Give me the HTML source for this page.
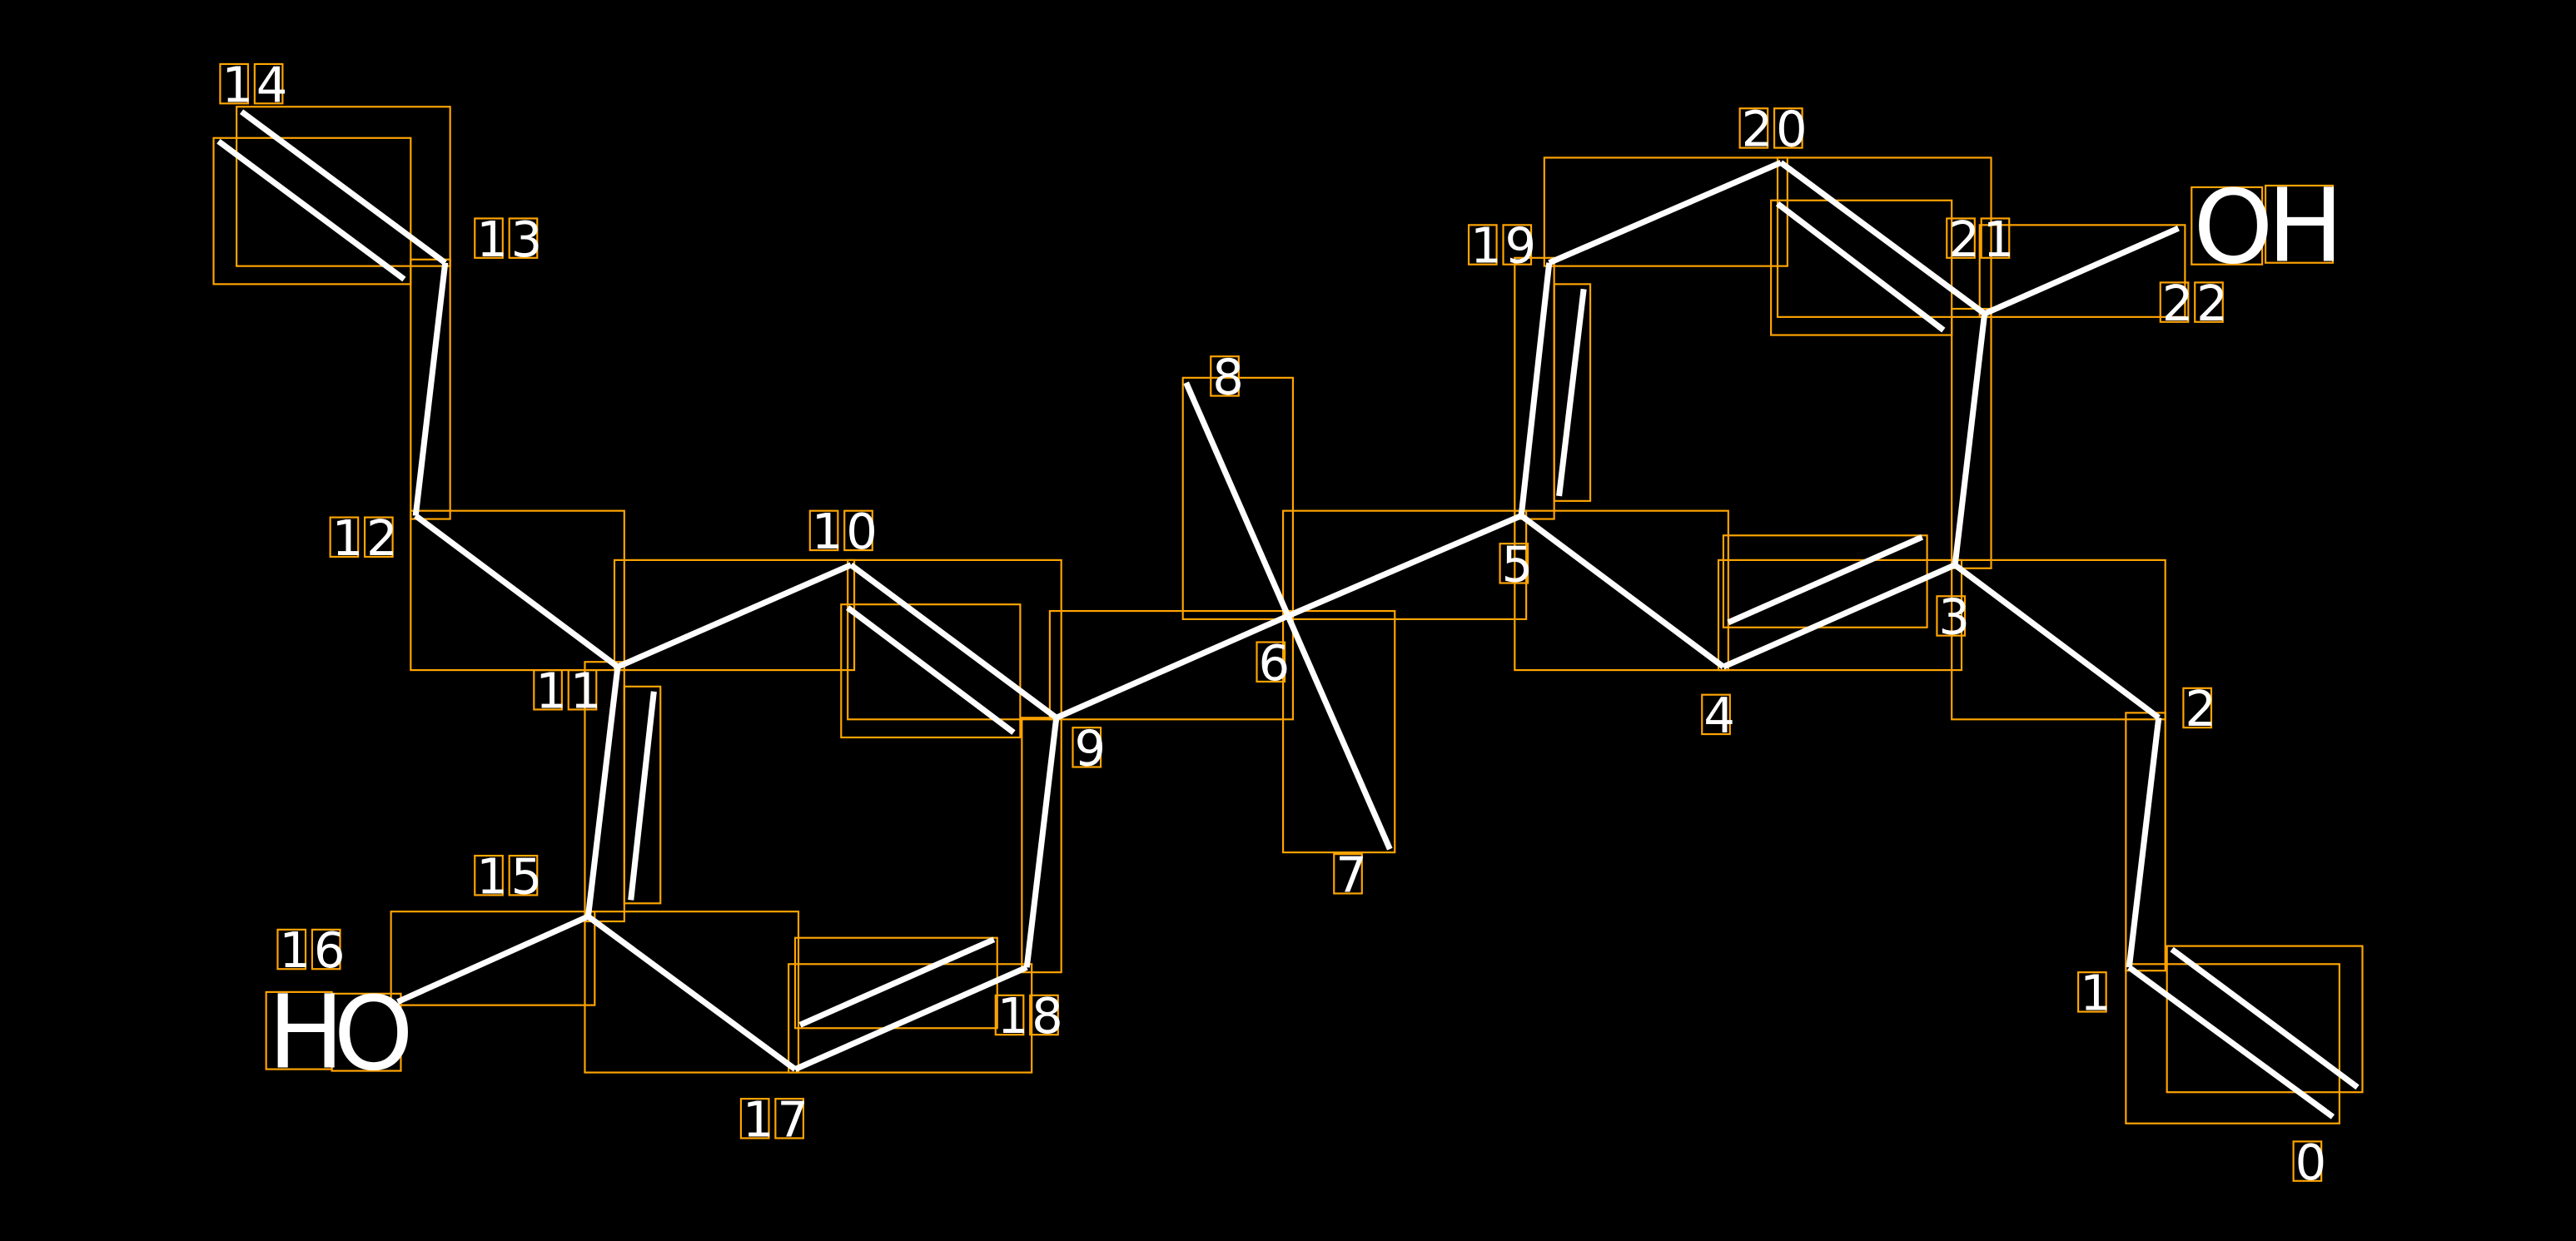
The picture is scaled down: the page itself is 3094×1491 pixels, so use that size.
<!DOCTYPE html>
<html><head><meta charset="utf-8">
<style>html,body{margin:0;padding:0;background:#000;}svg{display:block;}</style>
</head><body>
<svg id="s" xmlns="http://www.w3.org/2000/svg" width="3094" height="1491" viewBox="0 0 1568 755.6" preserveAspectRatio="none">
<rect x="0" y="0" width="1568" height="756" fill="#000"/>
<g id="boxes" fill="none" stroke="#FFA500" stroke-width="1.1"></g>
<g id="bonds" stroke="#fff" stroke-width="3.6" stroke-linecap="butt"></g>
<g id="labels" font-family="DejaVu Sans, Liberation Sans, sans-serif" fill="#fff"></g>
</svg>
<script>
var NS="http://www.w3.org/2000/svg";
function el(p,t,a,txt){var e=document.createElementNS(NS,t);for(var k in a)e.setAttribute(k,a[k]);if(txt!=null)e.textContent=txt;document.getElementById(p).appendChild(e);return e;}
var L=[[147,68,271,160],[133,86,246,170],[271,160,253,314],[253,314,376,406],[376,406,518,344],[518,344,643,437],[516,370,617,446],
[643,437,784,375],[784,375,722,233],[784,375,846,517],[784,375,926,314],[926,314,1049,406],[1049,406,1190,344],[1052,379,1170,327],
[1190,344,1314,437],[1314,437,1296,589],[1296,589,1420,680],[1322,578,1435,662],[1190,344,1208,191],[1208,191,1084,99],[1082,124,1183,201],
[1084,99,943,160],[943,160,926,314],[964,176,949,302],[1208,191,1326,139],[376,406,358,558],[398,421,384,548],[358,558,242,610],
[358,558,484,651],[484,651,625,589],[487,624,605,572],[625,589,643,437]];
L.forEach(function(l){el("bonds","line",{x1:l[0],y1:l[1],x2:l[2],y2:l[3]});});
var B=[[144,65,274,162],[130,84,250,173],[250,158,274,316],[250,311,380,408],[374,341,520,408],[516,341,646,438],[512,368,621,449],
[622,437,646,592],[639,372,787,438],[720,230,787,377],[781,372,849,519],[781,311,929,377],[922,311,1052,408],[1046,341,1194,408],
[1049,326,1173,382],[1188,341,1318,438],[1294,434,1318,591],[1294,587,1424,684],[1319,576,1438,665],[1188,188,1212,346],[922,157,946,316],
[946,173,968,305],[940,96,1088,162],[1082,96,1212,193],[1078,122,1188,204],[1205,137,1330,193],[356,403,380,561],[380,418,402,550],
[238,555,362,612],[356,555,486,653],[480,587,628,653],[484,571,607,626]];
B.forEach(function(b){el("boxes","rect",{x:b[0],y:b[1],width:b[2]-b[0],height:b[3]-b[1]});});
var T=[["14",135,62],["13",290,156],["12",202,338],["11",326,431],["10",494,334],["9",654,466],["8",738,240],["6",766,414],
["7",813,543],["5",914,354],["4",1037,446],["3",1180,386],["2",1330,442],["1",1266,615],["0",1397,718],["15",290,544],
["16",170,589],["17",452,692],["18",607,629],["19",895,160],["20",1060,89],["21",1186,156],["22",1316,195]];
T.forEach(function(t){for(var i=0;i<t[0].length;i++){var x=t[1]+i*21,y=t[2];
el("labels","text",{x:x,y:y,"font-size":"30"},t[0][i]);
el("boxes","rect",{x:x-1,y:y-23,width:17,height:24});}});
[["H",163,650,38],["O",203,651,40],["O",1335,160,41],["H",1380,159,39]].forEach(function(c){
el("labels","text",{x:c[1],y:c[2],"font-size":"62"},c[0]);
el("boxes","rect",{x:c[1]-1,y:c[2]-46,width:c[3]+2,height:47});});
</script>
</body></html>
